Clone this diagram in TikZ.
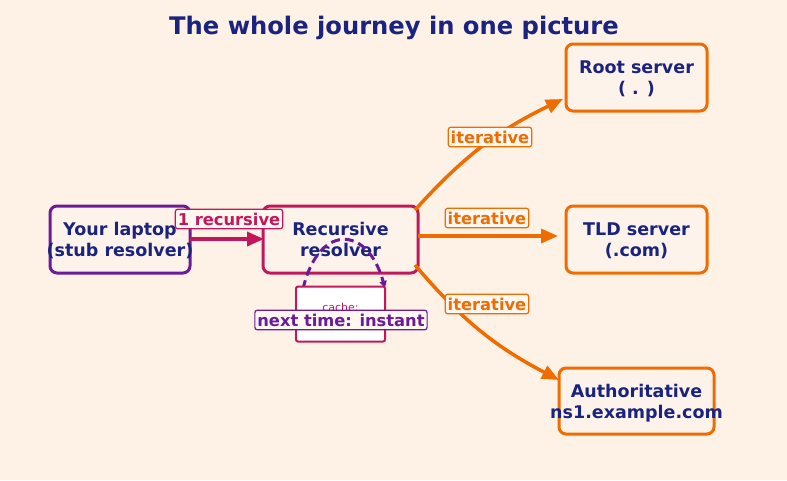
\documentclass[tikz,border=0pt]{standalone}
\usepackage{fontspec}
\setmainfont{DejaVu Sans}
\usetikzlibrary{arrows.meta}
\definecolor{bg}{HTML}{FEF1E6}
\definecolor{navy}{HTML}{1A237E}
\definecolor{purp}{HTML}{6A1B9A}
\definecolor{crim}{HTML}{C2185B}
\definecolor{oran}{HTML}{EF6C00}
\definecolor{boxfill}{HTML}{FEF3EA}
\definecolor{lblfill}{HTML}{FFF7F0}
\newcommand{\ctr}[1]{\makebox[0pt]{#1}}
\tikzset{
  box/.style={draw=#1, line width=3pt, rounded corners=7pt, fill=boxfill,
    align=center, text=navy, inner sep=0pt, text depth=0pt,
    font=\fontsize{17.5}{21}\selectfont\bfseries},
  lbl/.style={draw=#1, line width=1.2pt, rounded corners=2.5pt, fill=lblfill,
    text=#1, inner xsep=2.5pt, inner ysep=3.5pt, font=\fontsize{16.3}{18}\selectfont\bfseries},
  conn/.style={draw=#1, line width=3.5pt, -{Triangle[length=17pt,width=14pt]}},
}
\begin{document}
\begin{tikzpicture}[x=1pt,y=-1pt]
\useasboundingbox[fill=bg] (0,0) rectangle (787,480);
\node[text=navy, font=\fontsize{24.2}{26}\selectfont\bfseries] (title) at (394,28) {The whole journey in one picture};
% nodes
\node[box=purp, minimum width=140pt, minimum height=67pt] (laptop) at (120,239.5) {\ctr{Your laptop}\\\ctr{(stub resolver)}};
\node[box=crim, minimum width=155pt, minimum height=67pt] (rec) at (340.5,239.5) {Recursive\\resolver};
\node[box=oran, minimum width=141pt, minimum height=67pt] (root) at (636.5,77.5) {Root server\\( . )};
\node[box=oran, minimum width=141pt, minimum height=67pt] (tld) at (636.5,239.5) {TLD server\\(.com)};
\node[box=oran, minimum width=155pt, minimum height=66pt] (auth) at (636.5,401) {\ctr{Authoritative}\\\ctr{ns1.example.com}};
% connectors
\coordinate (a1) at (190,239);
\coordinate (a2) at (264,239);
\draw[conn=crim] (a1) -- (a2);
\node[lbl=crim] (l1) at (229,219) {1 recursive};
\coordinate (r1) at (415,210);
\coordinate (r1e) at (563,99);
\draw[conn=oran] (r1) to[bend left=11] (r1e);
\coordinate (r2) at (418,236);
\coordinate (r2e) at (558,236);
\draw[conn=oran] (r2) -- (r2e);
\coordinate (r3) at (415,265);
\coordinate (r3e) at (559,380);
\draw[conn=oran] (r3) to[bend right=11] (r3e);
\node[lbl=oran] (i1) at (490,137) {iterative};
\node[lbl=oran] (i2) at (487,218) {iterative};
\node[lbl=oran] (i3) at (487,304) {iterative};
% cache loop
\coordinate (c1) at (303,289);
\coordinate (c2) at (385,288);
\draw[purp, line width=3pt, dash pattern=on 9pt off 5pt, -{Triangle[length=7pt,width=7pt]}]
  (c1) .. controls (318,224) and (367,224) .. (c2);
\node[draw=crim, line width=2pt, rounded corners=2pt, fill=white, minimum width=89pt,
  minimum height=55pt, align=center, text=crim, font=\fontsize{11}{14}\selectfont] (cache)
  at (340.5,314) {cache:\\www → 93.184};
\node[lbl=purp] (nt) at (341,320) {next time: instant};
\end{tikzpicture}
\end{document}
